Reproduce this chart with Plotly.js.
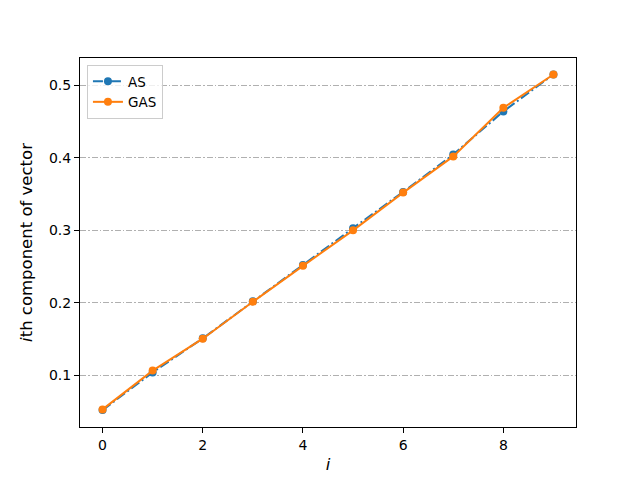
<!DOCTYPE html>
<html>
<head>
<meta charset="utf-8">
<script src="https://cdn.plot.ly/plotly-3.0.1.min.js"></script>
<style>
  html, body { margin: 0; padding: 0; background: #fff; }
  #plot { width: 640px; height: 480px; }
</style>
</head>
<body>
<div id="plot"></div>
<script>
// Component index
const idx = [0, 1, 2, 3, 4, 5, 6, 7, 8, 9];

// Vector components
const asValues = [0.052, 0.104, 0.151, 0.202, 0.252, 0.303, 0.353, 0.4045, 0.464, 0.515];
const gasValues = [0.053, 0.1065, 0.1505, 0.2015, 0.251, 0.300, 0.352, 0.402, 0.469, 0.515];

// Tick values
const xTicks = [0, 2, 4, 6, 8];
const yTicks = [0.1, 0.2, 0.3, 0.4, 0.5];

const traceAS = {
    x: idx,
    y: asValues,
    mode: 'lines+markers',
    name: 'AS',
    line: { color: '#1f77b4', width: 2, dash: '10px,3px,2px,3px' },
    marker: { color: '#1f77b4', size: 8 }
};

const traceGAS = {
    x: idx,
    y: gasValues,
    mode: 'lines+markers',
    name: 'GAS',
    line: { color: '#ff7f0e', width: 2 },
    marker: { color: '#ff7f0e', size: 8 }
};

const tickFont = { family: 'DejaVu Sans', size: 14, color: '#000' };

const layout = {
    width: 640,
    height: 480,
    margin: { l: 80, r: 64, t: 58, b: 53 },
    paper_bgcolor: '#fff',
    plot_bgcolor: '#fff',
    font: { family: 'DejaVu Sans', color: '#000' },
    showlegend: true,
    legend: {
        x: 0.014, y: 0.981, xanchor: 'left', yanchor: 'top',
        bordercolor: '#cccccc', borderwidth: 1,
        bgcolor: 'rgba(255,255,255,0.8)',
        font: { family: 'DejaVu Sans', size: 13.5 },
        tracegroupgap: 0
    },
    xaxis: {
        range: [-0.45, 9.45],
        tickvals: xTicks,
        ticktext: xTicks.map(String),
        showgrid: false,
        zeroline: false,
        showline: true, mirror: true, linecolor: '#000', linewidth: 1,
        ticks: 'outside', ticklen: 5, tickcolor: '#000',
        tickfont: tickFont,
        title: { text: '<i>i</i>', font: { family: 'DejaVu Sans', size: 16.5 }, standoff: 6 }
    },
    yaxis: {
        range: [0.0287, 0.5377],
        tickvals: yTicks,
        ticktext: yTicks.map(v => v.toFixed(1)),
        showgrid: true, gridcolor: '#b0b0b0', gridwidth: 1, griddash: '6px,2px,1.5px,2px',
        zeroline: false,
        showline: true, mirror: true, linecolor: '#000', linewidth: 1,
        ticks: 'outside', ticklen: 5, tickcolor: '#000',
        tickfont: tickFont,
        title: { text: '<i>i</i>th component of vector', font: { family: 'DejaVu Sans', size: 16.5 }, standoff: 12 }
    }
};

Plotly.newPlot('plot', [traceAS, traceGAS], layout, { displayModeBar: false });
</script>
</body>
</html>
